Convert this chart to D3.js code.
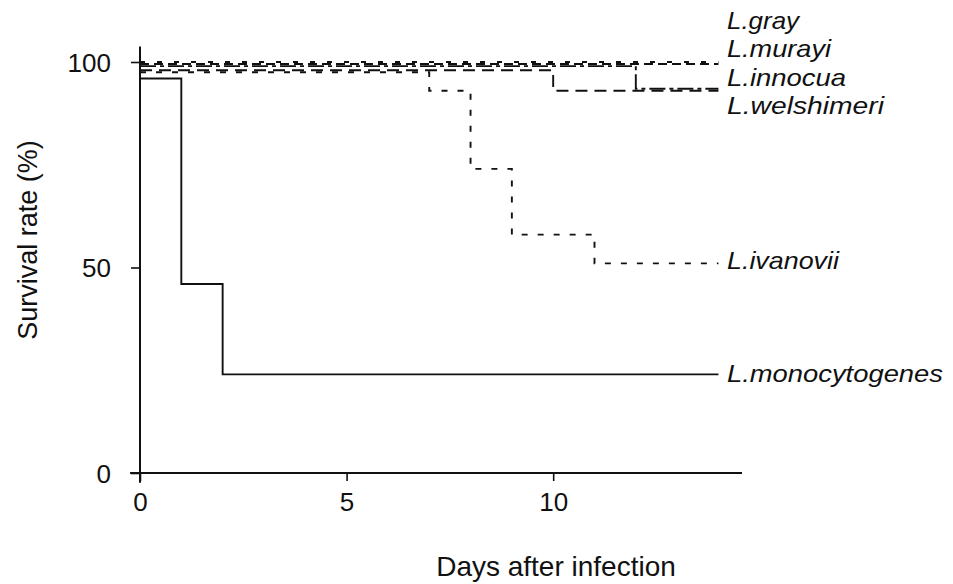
<!DOCTYPE html>
<html>
<head>
<meta charset="utf-8">
<script src="https://cdn.jsdelivr.net/npm/d3@7"></script>
<style>
  html, body { margin: 0; padding: 0; background: #fff; }
  svg text { font-family: "Liberation Sans", Arial, sans-serif; fill: #111; }
</style>
</head>
<body>
<svg id="chart" width="953" height="584"></svg>
<script>
// Kaplan–Meier style survival of infected hosts, one step curve per Listeria species
const species = ["L.gray", "L.murayi", "L.innocua", "L.welshimeri", "L.ivanovii", "L.monocytogenes"];
const grayDays = [0, 14];            const grayRate = [100, 100];
const murayiDays = [0, 14];          const murayiRate = [99.5, 99.5];
const innocuaDays = [0, 10, 14];     const innocuaRate = [98, 93, 93];
const welshimeriDays = [0, 12, 14];  const welshimeriRate = [99, 93.5, 93.5];
const ivanoviiDays = [0, 7, 8, 9, 11, 14];
const ivanoviiRate = [97.5, 93, 74, 58, 51, 51];
const monoDays = [0, 1, 2, 14];      const monoRate = [96, 46, 24, 24];

const xTicks = [0, 5, 10];
const yTicks = [0, 50, 100];
const xTitle = "Days after infection";
const yTitle = "Survival rate (%)";

const seriesDays = [grayDays, murayiDays, innocuaDays, welshimeriDays, ivanoviiDays, monoDays];
const seriesRate = [grayRate, murayiRate, innocuaRate, welshimeriRate, ivanoviiRate, monoRate];
const dashes = ["5,12", "9,5", "12,7", "16,4,4,4", "6,10", null];
// label baselines and stretched widths of the species names on the right
const labelBase = [29, 57, 86, 114, 269, 382];
const labelWidth = [72, 104, 119, 157, 112, 216];

const svg = d3.select("#chart");
const x = d3.scaleLinear().domain([0, 14.57]).range([140, 742]);
const y = d3.scaleLinear().domain([0, 100]).range([473, 62]);

const ink = "#111";

// axis lines (they overshoot the origin a little, as on the printed plot)
svg.append("line")
  .attr("x1", x(0)).attr("x2", x(0))
  .attr("y1", y(103.8)).attr("y2", y(-2.4))
  .attr("stroke", ink).attr("stroke-width", 2);
svg.append("line")
  .attr("x1", x(-0.24)).attr("x2", x(14.57))
  .attr("y1", y(0)).attr("y2", y(0))
  .attr("stroke", ink).attr("stroke-width", 2);

const yAxis = d3.axisLeft(y).tickValues(yTicks).tickSize(9).tickPadding(20).tickSizeOuter(0);
const gy = svg.append("g").attr("transform", `translate(${x(0)},0)`).call(yAxis);
gy.select(".domain").remove();
gy.selectAll(".tick line").attr("stroke", ink).attr("stroke-width", 1.6);
gy.selectAll(".tick text").attr("font-size", 26).attr("fill", ink).attr("dy", "0.35em");

const xAxis = d3.axisBottom(x).tickValues(xTicks).tickSize(8).tickPadding(12).tickSizeOuter(0);
const gx = svg.append("g").attr("transform", `translate(0,${y(0)})`).call(xAxis);
gx.select(".domain").remove();
gx.selectAll(".tick line").attr("stroke", ink).attr("stroke-width", 1.6);
gx.selectAll(".tick text").attr("font-size", 26).attr("fill", ink).attr("dy", "0.71em");

// axis titles
svg.append("text")
  .attr("x", 556).attr("y", 576)
  .attr("text-anchor", "middle").attr("font-size", 28)
  .text(xTitle);
svg.append("text")
  .attr("transform", "translate(37,240) rotate(-90)")
  .attr("text-anchor", "middle").attr("font-size", 27)
  .text(yTitle);

// survival curves
const line = d3.line()
  .x(d => x(d[0]))
  .y(d => y(d[1]))
  .curve(d3.curveStepAfter);

species.forEach((name, i) => {
  const pts = seriesDays[i].map((d, k) => [d, seriesRate[i][k]]);
  svg.append("path")
    .attr("d", line(pts))
    .attr("fill", "none")
    .attr("stroke", ink)
    .attr("stroke-width", 1.9)
    .attr("stroke-dasharray", dashes[i]);
  svg.append("text")
    .attr("x", 727).attr("y", labelBase[i])
    .attr("font-size", 24)
    .attr("font-style", "italic")
    .attr("textLength", labelWidth[i])
    .attr("lengthAdjust", "spacingAndGlyphs")
    .text(name);
});
</script>
</body>
</html>
